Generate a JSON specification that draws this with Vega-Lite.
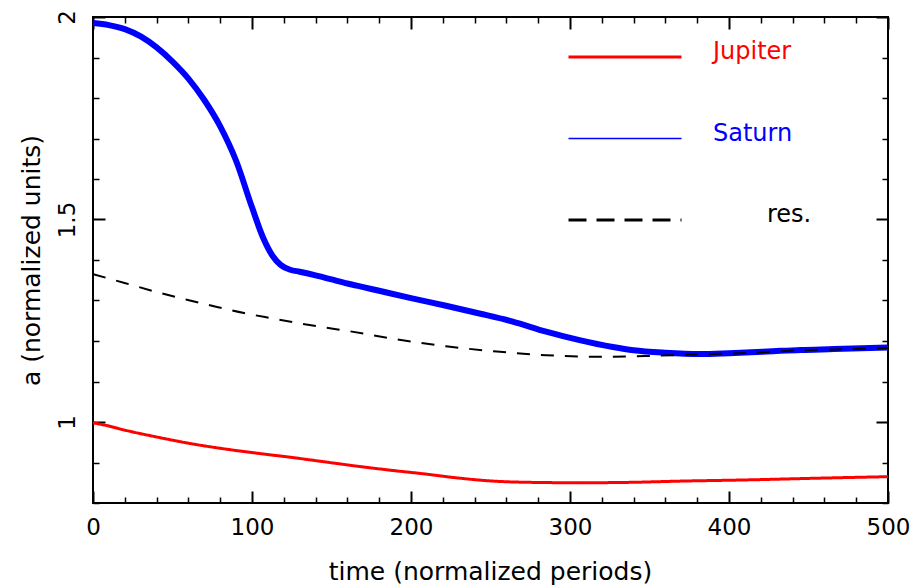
{
  "$schema": "https://vega.github.io/schema/vega-lite/v6.json",
  "width": 795,
  "height": 486,
  "autosize": {"type": "none"},
  "padding": {"left": 93, "top": 17, "right": 27, "bottom": 83},
  "background": "white",
  "config": {
    "view": {"stroke": "black", "strokeWidth": 2},
    "font": "DejaVu Sans"
  },
  "data": {
    "values": [
      {"series": "Jupiter", "t": 0, "a": 0.998},
      {"series": "Jupiter", "t": 10, "a": 0.99},
      {"series": "Jupiter", "t": 20, "a": 0.98},
      {"series": "Jupiter", "t": 40, "a": 0.963},
      {"series": "Jupiter", "t": 61, "a": 0.947},
      {"series": "Jupiter", "t": 82, "a": 0.934},
      {"series": "Jupiter", "t": 103, "a": 0.923},
      {"series": "Jupiter", "t": 124, "a": 0.913},
      {"series": "Jupiter", "t": 145, "a": 0.902},
      {"series": "Jupiter", "t": 166, "a": 0.891},
      {"series": "Jupiter", "t": 187, "a": 0.881},
      {"series": "Jupiter", "t": 208, "a": 0.872},
      {"series": "Jupiter", "t": 229, "a": 0.862},
      {"series": "Jupiter", "t": 248, "a": 0.855},
      {"series": "Jupiter", "t": 275, "a": 0.851},
      {"series": "Jupiter", "t": 306, "a": 0.85},
      {"series": "Jupiter", "t": 338, "a": 0.851},
      {"series": "Jupiter", "t": 369, "a": 0.854},
      {"series": "Jupiter", "t": 411, "a": 0.857},
      {"series": "Jupiter", "t": 453, "a": 0.861},
      {"series": "Jupiter", "t": 500, "a": 0.865},
      {"series": "Saturn", "t": 0, "a": 1.985},
      {"series": "Saturn", "t": 10, "a": 1.98},
      {"series": "Saturn", "t": 20, "a": 1.97},
      {"series": "Saturn", "t": 30, "a": 1.952},
      {"series": "Saturn", "t": 40, "a": 1.925},
      {"series": "Saturn", "t": 50, "a": 1.89},
      {"series": "Saturn", "t": 60, "a": 1.848},
      {"series": "Saturn", "t": 70, "a": 1.795},
      {"series": "Saturn", "t": 80, "a": 1.73},
      {"series": "Saturn", "t": 90, "a": 1.645},
      {"series": "Saturn", "t": 100, "a": 1.53},
      {"series": "Saturn", "t": 107, "a": 1.455},
      {"series": "Saturn", "t": 113, "a": 1.41},
      {"series": "Saturn", "t": 118, "a": 1.388},
      {"series": "Saturn", "t": 124, "a": 1.376},
      {"series": "Saturn", "t": 130, "a": 1.371},
      {"series": "Saturn", "t": 140, "a": 1.362},
      {"series": "Saturn", "t": 150, "a": 1.352},
      {"series": "Saturn", "t": 160, "a": 1.342},
      {"series": "Saturn", "t": 170, "a": 1.333},
      {"series": "Saturn", "t": 180, "a": 1.324},
      {"series": "Saturn", "t": 200, "a": 1.306},
      {"series": "Saturn", "t": 222, "a": 1.287},
      {"series": "Saturn", "t": 243, "a": 1.268},
      {"series": "Saturn", "t": 264, "a": 1.248},
      {"series": "Saturn", "t": 285, "a": 1.223},
      {"series": "Saturn", "t": 306, "a": 1.202},
      {"series": "Saturn", "t": 327, "a": 1.185},
      {"series": "Saturn", "t": 340, "a": 1.177},
      {"series": "Saturn", "t": 360, "a": 1.171},
      {"series": "Saturn", "t": 382, "a": 1.168},
      {"series": "Saturn", "t": 400, "a": 1.17},
      {"series": "Saturn", "t": 424, "a": 1.174},
      {"series": "Saturn", "t": 445, "a": 1.178},
      {"series": "Saturn", "t": 466, "a": 1.18},
      {"series": "Saturn", "t": 500, "a": 1.184},
      {"series": "res.", "t": 0, "a": 1.365},
      {"series": "res.", "t": 21, "a": 1.342},
      {"series": "res.", "t": 40, "a": 1.321},
      {"series": "res.", "t": 59, "a": 1.302},
      {"series": "res.", "t": 76, "a": 1.286},
      {"series": "res.", "t": 95, "a": 1.269},
      {"series": "res.", "t": 111, "a": 1.257},
      {"series": "res.", "t": 128, "a": 1.245},
      {"series": "res.", "t": 143, "a": 1.235},
      {"series": "res.", "t": 160, "a": 1.225},
      {"series": "res.", "t": 191, "a": 1.204},
      {"series": "res.", "t": 222, "a": 1.187},
      {"series": "res.", "t": 254, "a": 1.174},
      {"series": "res.", "t": 285, "a": 1.165},
      {"series": "res.", "t": 317, "a": 1.161},
      {"series": "res.", "t": 348, "a": 1.163},
      {"series": "res.", "t": 380, "a": 1.167},
      {"series": "res.", "t": 400, "a": 1.169},
      {"series": "res.", "t": 424, "a": 1.173},
      {"series": "res.", "t": 445, "a": 1.177},
      {"series": "res.", "t": 466, "a": 1.179},
      {"series": "res.", "t": 500, "a": 1.183}
    ]
  },
  "layer": [
    {
      "transform": [{"filter": "datum.series === 'Jupiter'"}],
      "mark": {"type": "line", "interpolate": "monotone", "strokeWidth": 3},
      "encoding": {
        "x": {
          "field": "t", "type": "quantitative",
          "scale": {"domain": [0, 500], "nice": false, "zero": false},
          "axis": {
            "orient": "bottom",
            "values": [0, 20, 40, 60, 80, 100, 120, 140, 160, 180, 200, 220, 240, 260, 280, 300, 320, 340, 360, 380, 400, 420, 440, 460, 480, 500],
            "grid": false, "domain": false,
            "tickColor": "black",
            "tickSize": {"condition": {"test": "datum.value % 100 === 0", "value": -12}, "value": -6},
            "tickWidth": {"condition": {"test": "datum.value % 100 === 0", "value": 2}, "value": 1.5},
            "labelExpr": "datum.value % 100 === 0 ? '' + datum.value : ''",
            "labelFontSize": 23, "labelColor": "black", "labelPadding": 25,
            "labelFlush": false, "labelOverlap": false, "labelBaseline": "top",
            "title": "time (normalized periods)",
            "titleFontSize": 25, "titleFontWeight": "normal", "titleColor": "black",
            "titleX": 397, "titleY": 68, "titleBaseline": "middle", "titleAlign": "center"
          }
        },
        "y": {
          "field": "a", "type": "quantitative",
          "scale": {"domain": [0.8, 2], "nice": false, "zero": false},
          "axis": {
            "orient": "left",
            "values": [0.8, 0.9, 1, 1.1, 1.2, 1.3, 1.4, 1.5, 1.6, 1.7, 1.8, 1.9, 2],
            "grid": false, "domain": false,
            "tickColor": "black",
            "tickSize": {"condition": {"test": "abs(datum.value * 2 - round(datum.value * 2)) < 0.001", "value": -12}, "value": -6},
            "tickWidth": {"condition": {"test": "abs(datum.value * 2 - round(datum.value * 2)) < 0.001", "value": 2}, "value": 1.5},
            "labelExpr": "abs(datum.value * 2 - round(datum.value * 2)) < 0.001 && datum.value > 0.9 ? '' + datum.value : ''",
            "labelFontSize": 23, "labelColor": "black", "labelPadding": 31,
            "labelAngle": 270, "labelAlign": "center", "labelBaseline": "alphabetic",
            "labelFlush": false, "labelOverlap": false,
            "title": "a (normalized units)",
            "titleFontSize": 25, "titleFontWeight": "normal", "titleColor": "black",
            "titleX": -62, "titleY": 243, "titleBaseline": "middle", "titleAlign": "center", "titleAngle": 270
          }
        },
        "color": {
          "field": "series", "type": "nominal",
          "scale": {"domain": ["Jupiter", "Saturn", "res."], "range": ["#ff0000", "#0000ff", "#000000"]},
          "legend": {
            "orient": "none", "legendX": 520, "legendY": 28, "direction": "vertical", "title": null,
            "symbolType": "stroke", "symbolSize": 12769, "symbolStrokeWidth": 3,
            "labelFontSize": 24, "labelOffset": 76, "padding": 0, "rowPadding": 57.5, "labelLimit": 300,
            "encode": {
              "labels": {"update": {
                "fill": {"signal": "datum.value === 'Jupiter' ? '#ff0000' : datum.value === 'Saturn' ? '#0000ff' : '#000000'"},
                "dy": {"value": -5},
                "dx": {"signal": "datum.value === 'res.' ? 54 : 0"}
              }},
              "symbols": {
                "update": {"strokeWidth": {"signal": "datum.value === 'Saturn' ? 1.5 : 3"}}
              }
            }
          }
        },
        "strokeDash": {
          "field": "series", "type": "nominal",
          "scale": {"domain": ["Jupiter", "Saturn", "res."], "range": [[1, 0], [1, 0], [18, 10]]},
          "legend": {
            "orient": "none", "legendX": 520, "legendY": 28, "direction": "vertical", "title": null,
            "symbolType": "stroke", "symbolSize": 12769, "symbolStrokeWidth": 3,
            "labelFontSize": 24, "labelOffset": 76, "padding": 0, "rowPadding": 57.5, "labelLimit": 300,
            "encode": {
              "labels": {"update": {
                "fill": {"signal": "datum.value === 'Jupiter' ? '#ff0000' : datum.value === 'Saturn' ? '#0000ff' : '#000000'"},
                "dy": {"value": -5},
                "dx": {"signal": "datum.value === 'res.' ? 54 : 0"}
              }},
              "symbols": {
                "update": {"strokeWidth": {"signal": "datum.value === 'Saturn' ? 1.5 : 3"}}
              }
            }
          }
        }
      }
    },
    {
      "transform": [{"filter": "datum.series === 'Saturn'"}],
      "mark": {"type": "line", "interpolate": "monotone", "strokeWidth": 6, "color": "#0000ff"},
      "encoding": {
        "x": {"field": "t", "type": "quantitative", "axis": null},
        "y": {"field": "a", "type": "quantitative", "axis": null}
      }
    },
    {
      "transform": [{"filter": "datum.series === 'res.'"}],
      "mark": {"type": "line", "interpolate": "monotone", "strokeWidth": 2, "color": "#000000", "strokeDash": [13, 11]},
      "encoding": {
        "x": {"field": "t", "type": "quantitative", "axis": null},
        "y": {"field": "a", "type": "quantitative", "axis": null}
      }
    },
    {
      "mark": {"type": "point", "opacity": 0},
      "encoding": {
        "x": {
          "field": "t", "type": "quantitative",
          "axis": {
            "orient": "top",
            "values": [0, 20, 40, 60, 80, 100, 120, 140, 160, 180, 200, 220, 240, 260, 280, 300, 320, 340, 360, 380, 400, 420, 440, 460, 480, 500],
            "grid": false, "domain": false, "labels": false, "title": null,
            "tickColor": "black",
            "tickSize": {"condition": {"test": "datum.value % 100 === 0", "value": -12}, "value": -6},
            "tickWidth": {"condition": {"test": "datum.value % 100 === 0", "value": 2}, "value": 1.5}
          }
        },
        "y": {
          "field": "a", "type": "quantitative",
          "axis": {
            "orient": "right",
            "values": [0.8, 0.9, 1, 1.1, 1.2, 1.3, 1.4, 1.5, 1.6, 1.7, 1.8, 1.9, 2],
            "grid": false, "domain": false, "labels": false, "title": null,
            "tickColor": "black",
            "tickSize": {"condition": {"test": "abs(datum.value * 2 - round(datum.value * 2)) < 0.001", "value": -12}, "value": -6},
            "tickWidth": {"condition": {"test": "abs(datum.value * 2 - round(datum.value * 2)) < 0.001", "value": 2}, "value": 1.5}
          }
        }
      }
    }
  ],
  "resolve": {"axis": {"x": "independent", "y": "independent"}}
}
